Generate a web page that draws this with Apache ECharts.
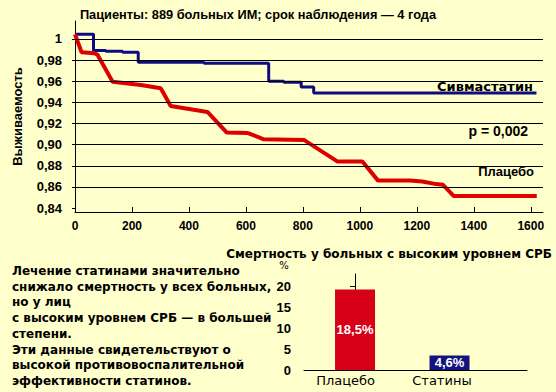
<!DOCTYPE html>
<html><head><meta charset="utf-8">
<script src="https://cdn.jsdelivr.net/npm/echarts@6/dist/echarts.min.js"></script>
<style>html,body{margin:0;padding:0;background:#FFFFCC;}#c{width:556px;height:392px;}</style>
</head><body><div id="c"></div>
<script>
// ---- data ----
const xTicks = [0,200,400,600,800,1000,1200,1400,1600];
const yTicks = [0.84,0.86,0.88,0.90,0.92,0.94,0.96,0.98,1.0];
const gridYLines = [0.86,0.88,0.90,0.92,0.94,0.96,0.98,1.0];
const simvaDays = [0,65,65,108,108,167,167,222,222,453,453,680,680,733,733,794,794,838,838,1620];
const simvaSurv = [1.0045,1.0045,0.9892,0.9892,0.9884,0.9884,0.9875,0.9875,0.978,0.978,0.977,0.977,0.960,0.960,0.959,0.959,0.9546,0.9546,0.9489,0.9489];
const placeboDays = [0,23,68,79,132,231,301,336,465,533,607,663,805,922,1009,1064,1176,1219,1268,1292,1329,1621];
const placeboSurv = [1.0045,0.9874,0.9865,0.985,0.9596,0.9565,0.9533,0.9366,0.931,0.9114,0.911,0.9051,0.9043,0.884,0.884,0.866,0.866,0.8652,0.8627,0.862,0.8515,0.8515];
const barCats = ['Плацебо','Статины'];
const barVals = [19.3, 3.5];
const barLabels = ['18,5%','4,6%'];
const barYTicks = [0,5,10,15,20];
const textLines = ['Лечение статинами значительно','снижало смертность у всех больных,','но у лиц','с высоким уровнем СРБ — в большей','степени.','Эти данные свидетельствуют о','высокой противовоспалительной','эффективности статинов.'];

const F = 'DejaVu Sans';
const L = 'Liberation Sans';
const ch = echarts.init(document.getElementById('c'), null, {renderer:'svg'});
const fmtY = v => (Math.abs(v-1)<1e-9 ? '1' : v.toFixed(2).replace('.',','));
const graphics = [
  {type:'text', x:258, y:14, style:{text:'Пациенты: 889 больных ИМ; срок наблюдения — 4 года', font:'bold 12.8px '+L, fill:'#000', align:'center', verticalAlign:'middle'}},
  {type:'text', x:533, y:86, style:{text:'Сивмастатин', font:'bold 13px '+F, fill:'#000', align:'right', verticalAlign:'middle'}},
  {type:'text', x:528, y:131, style:{text:'p = 0,002', font:'bold 14px '+L, fill:'#000', align:'right', verticalAlign:'middle'}},
  {type:'text', x:534, y:171, style:{text:'Плацебо', font:'bold 13px '+L, fill:'#000', align:'right', verticalAlign:'middle'}},
  {type:'text', x:552, y:254, style:{text:'Смертность у больных с высоким уровнем СРБ', font:'bold 12px '+F, fill:'#000', align:'right', verticalAlign:'middle'}},
  {type:'text', x:284, y:265, style:{text:'%', font:'10px '+F, fill:'#000', align:'center', verticalAlign:'middle'}}
];
textLines.forEach((t,i)=>graphics.push({type:'text', x:12, y:271+i*15.7, style:{text:t, font:'bold 12px '+F, fill:'#000', align:'left', verticalAlign:'middle'}}));

ch.setOption({
  backgroundColor:'#FFFFCC',
  animation:false,
  graphic: graphics,
  grid:[
    {left:75, right:13, top:21, bottom:180},
    {left:304, top:274, width:223, bottom:22}
  ],
  xAxis:[
    {type:'value', gridIndex:0, min:0, max:1643,
     axisLine:{lineStyle:{color:'#000',width:1}},
     axisTick:{inside:true, length:5, lineStyle:{color:'#000'}, customValues:xTicks},
     axisLabel:{customValues:xTicks, formatter:v=>String(v), color:'#000', fontFamily:L, fontWeight:'bold', fontSize:12, margin:8},
     splitLine:{show:false}},
    {type:'value', gridIndex:1, min:-0.54, max:1.82,
     axisLine:{lineStyle:{color:'#000',width:1}},
     axisTick:{show:false},
     axisLabel:{customValues:[-0.1,0.92], formatter:v=>barCats[Math.round(v)], color:'#000', fontFamily:F, fontSize:13, margin:4},
     splitLine:{show:false}}
  ],
  yAxis:[
    {type:'value', gridIndex:0, min:0.8363, max:1.017,
     name:'Выживаемость', nameLocation:'middle', nameGap:51, nameRotate:90,
     nameTextStyle:{color:'#000', fontFamily:L, fontWeight:'bold', fontSize:13},
     axisLine:{show:true, lineStyle:{color:'#000',width:1}},
     axisTick:{show:true, length:3, lineStyle:{color:'#000'}, customValues:yTicks},
     axisLabel:{customValues:yTicks, formatter:fmtY, color:'#000', fontFamily:L, fontWeight:'bold', fontSize:13, margin:13},
     splitLine:{show:false}},
    {type:'value', gridIndex:1, min:0, max:23,
     axisLine:{show:true, lineStyle:{color:'#000',width:1}},
     axisTick:{show:true, length:5, lineStyle:{color:'#000'}, customValues:barYTicks},
     axisLabel:{customValues:barYTicks, color:'#000', fontFamily:L, fontWeight:'bold', fontSize:13, margin:13},
     splitLine:{show:false}}
  ],
  series:[
    {type:'line', xAxisIndex:0, yAxisIndex:0, symbol:'none', silent:true,
     data: simvaDays.map((d,i)=>[d, simvaSurv[i]]),
     lineStyle:{color:'#0c0c80', width:3},
     markLine:{silent:true, symbol:'none', label:{show:false}, lineStyle:{color:'#000', width:1, type:'solid'},
       data: gridYLines.map(v=>({yAxis:v}))}},
    {type:'line', xAxisIndex:0, yAxisIndex:0, symbol:'none', silent:true,
     data: placeboDays.map((d,i)=>[d, placeboSurv[i]]),
     lineStyle:{color:'#dd0000', width:4}, z:3},
    {type:'bar', xAxisIndex:1, yAxisIndex:1, barWidth:40, silent:true,
     data: barVals.map((v,i)=>({value:[i, v], itemStyle:{color: i===0 ? '#d70016' : '#14147f'}})),
     label:{show:true, position:'inside', formatter:p=>barLabels[p.dataIndex], color:'#fff', fontFamily:L, fontWeight:'bold', fontSize:13}}
  ]
});
</script></body></html>
